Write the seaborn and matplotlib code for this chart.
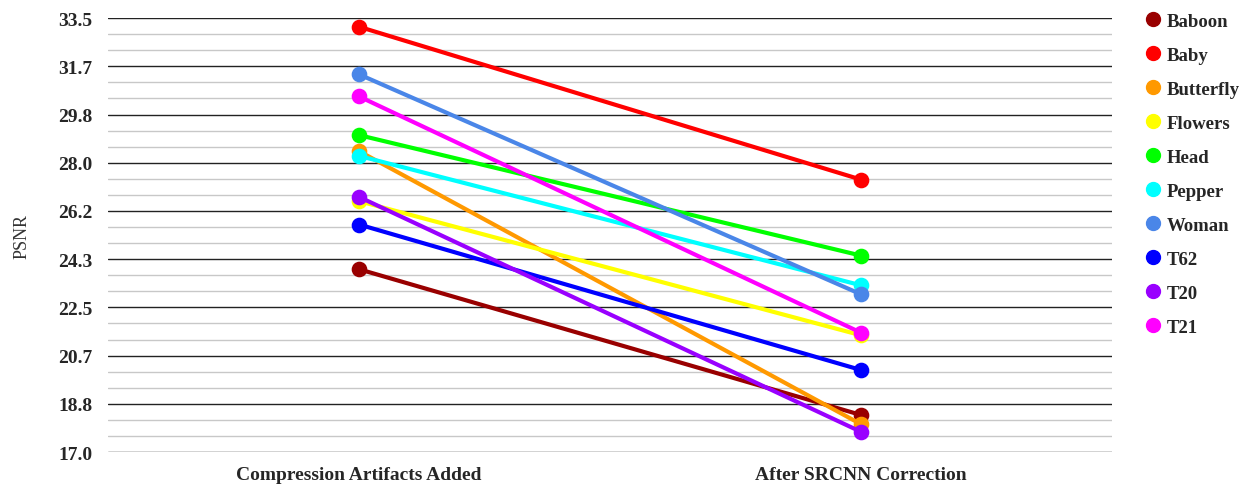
import numpy as np
import pandas as pd
import seaborn as sns
import matplotlib.pyplot as plt
from matplotlib.lines import Line2D

# values
stages = ['Compression Artifacts Added', 'After SRCNN Correction']
images = ['Baboon', 'Baby', 'Butterfly', 'Flowers', 'Head', 'Pepper', 'Woman', 'T62', 'T20', 'T21']
psnr_before = [23.95, 33.17, 28.44, 26.54, 29.05, 28.26, 31.36, 25.65, 26.70, 30.52]
psnr_after = [18.41, 27.36, 18.06, 21.44, 24.47, 23.34, 23.00, 20.12, 17.77, 21.54]
colors = ['#990000', '#ff0000', '#ff9900', '#ffff00', '#00ff00',
          '#00ffff', '#4a86e8', '#0000ff', '#9900ff', '#ff00ff']

df = pd.DataFrame({
    'image': images * 2,
    'stage': [stages[0]] * len(images) + [stages[1]] * len(images),
    'psnr': psnr_before + psnr_after,
})

sns.set_style('white')
plt.rcParams['font.family'] = ['Liberation Serif', 'DejaVu Serif']

fig = plt.figure(figsize=(12.52, 4.89), dpi=100)
ax = fig.add_axes([0.0863, 0.0736, 0.8017, 0.8874])

palette = dict(zip(images, colors))
sns.pointplot(data=df, x='stage', y='psnr', hue='image', hue_order=images,
              order=stages, palette=palette, dodge=False, ax=ax,
              markers='o', markersize=9, linewidth=3, legend=False)

ymin, ymax = 17.0, 33.5
ax.set_ylim(ymin, ymax)
ax.set_xlim(-0.5, 1.5)
major = np.linspace(ymin, ymax, 10)
ax.set_yticks(major)
ax.set_yticklabels([f'{v:.1f}' for v in major], fontweight='bold', fontsize=14)
steps = np.linspace(ymin, ymax, 28)
ax.set_yticks([v for i, v in enumerate(steps) if i % 3 != 0], minor=True)
ax.grid(axis='y', which='major', color='#222222', linewidth=1.0, zorder=0)
ax.grid(axis='y', which='minor', color='#c8c8c8', linewidth=1.0, zorder=0)
ax.grid(axis='x', visible=False)
ax.set_axisbelow(True)
ax.tick_params(axis='both', which='both', length=0)
ax.tick_params(axis='y', pad=11)
ax.tick_params(axis='x', pad=10)
for lab in ax.get_xticklabels():
    lab.set_fontweight('bold')
    lab.set_fontsize(14)
for s in ax.spines.values():
    s.set_visible(False)

ax.set_xlabel('')
ax.set_ylabel('PSNR', fontsize=13, color='#333333', labelpad=20)

handles = [Line2D([0], [0], marker='o', linestyle='none', markersize=10,
                  markerfacecolor=c, markeredgecolor=c) for c in colors]
leg = fig.legend(handles, images, loc='upper left', bbox_to_anchor=(0.9, 1.007),
                 frameon=False, prop={'weight': 'bold', 'size': 13.5},
                 labelspacing=0.9, handletextpad=0.25, handlelength=1.0)

fig.savefig('out.png', dpi=100)
